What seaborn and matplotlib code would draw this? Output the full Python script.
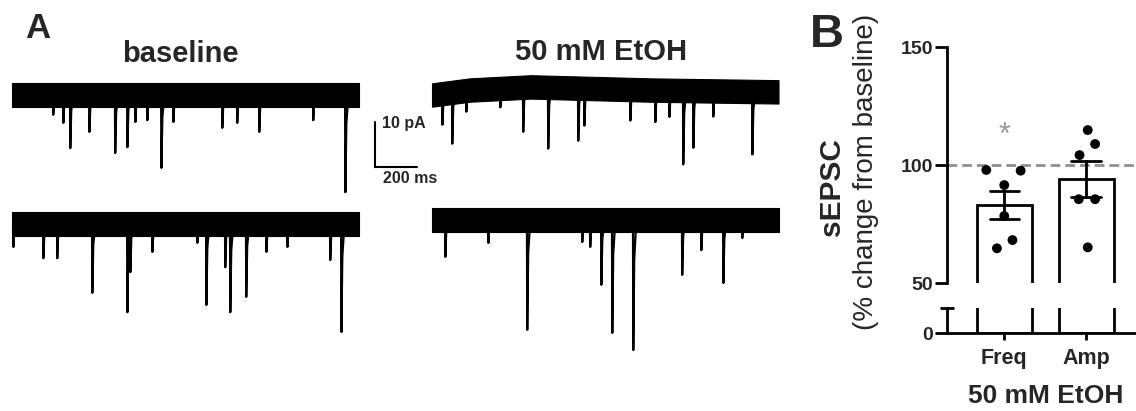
import numpy as np
import pandas as pd
import matplotlib
matplotlib.use("Agg")
import matplotlib.pyplot as plt
import seaborn as sns

# ---------------- panel A: example sEPSC traces ----------------
# events: onset time (ms) and amplitude (pA, downward)
trace_len = 1650

bl_top_t = [195, 243, 276, 367, 490, 548, 586, 643, 710, 767, 1000, 1071, 1176, 1433, 1586]
bl_top_a = [4.4, 6.2, 11.8, 8.2, 12.9, 11.6, 6.0, 5.6, 16.2, 6.0, 7.3, 6.2, 8.2, 5.6, 21.6]

bl_bot_t = [5, 148, 214, 381, 548, 562, 667, 881, 924, 1014, 1038, 1114, 1210, 1310, 1514, 1567]
bl_bot_a = [5.1, 7.6, 7.6, 15.3, 19.6, 10.7, 6.2, 4.2, 18.0, 9.6, 19.6, 16.2, 6.2, 5.1, 8.0, 24.0]

et_top_t = [48, 95, 162, 324, 433, 552, 695, 724, 943, 1062, 1129, 1195, 1243, 1338, 1524]
et_top_a = [6.9, 11.4, 4.7, 4.2, 9.9, 13.6, 11.7, 8.3, 6.9, 7.1, 5.9, 16.4, 12.7, 5.7, 14.0]

et_bot_t = [62, 267, 452, 714, 752, 805, 857, 957, 1190, 1281, 1386, 1476]
et_bot_a = [8.2, 5.1, 24.4, 4.9, 6.0, 14.4, 25.1, 28.9, 12.2, 6.7, 14.0, 4.0]

# slow baseline drift of the EtOH top trace (ms, pA)
et_top_drift_t = [0, 180, 470, 1040, 1650]
et_top_drift_v = [0, 1.1, 1.8, 1.1, 0.7]
flat_drift_t = [0, 1650]
flat_drift_v = [0, 0]

# ---------------- panel B: sEPSC % change ----------------
measures = ["Freq", "Amp"]
freq_vals = [97.9, 97.6, 91.5, 78.4, 64.7, 68.2]
amp_vals = [114.8, 108.9, 104.2, 85.5, 85.5, 65.1]
freq_jit = [-0.22, 0.20, 0.0, 0.0, -0.09, 0.10]
amp_jit = [0.02, 0.11, -0.08, -0.09, 0.11, 0.02]

sns.set_theme(style="white")
plt.rcParams["font.family"] = ["Liberation Sans", "DejaVu Sans"]

W, H = 1136, 411
fig = plt.figure(figsize=(W / 100, H / 100), dpi=100)

# panel A axes: 1 px = 4.762 ms horizontally, 1 px = 1/4.5 pA vertically
MS_PX = 200 / 42
PA_PX = 4.5
ax_a = fig.add_axes([0, 0, 800 / W, 1])
ax_a.set_xlim(-12 * MS_PX, 788 * MS_PX)
ax_a.set_ylim((95 - H) / PA_PX, 95 / PA_PX)
ax_a.axis("off")

traces = [
    (bl_top_t, bl_top_a, flat_drift_t, flat_drift_v, 0, 0),
    (bl_bot_t, bl_bot_a, flat_drift_t, flat_drift_v, 0, -(224 - 95) / PA_PX),
    (et_top_t, et_top_a, et_top_drift_t, et_top_drift_v, 2000, 0),
    (et_bot_t, et_bot_a, flat_drift_t, flat_drift_v, 2000, -(220 - 95) / PA_PX),
]
shape_dt = [0, 1.5, 6, 16]
shape_f = [0, -1.0, -0.3, 0]
hw = 2.6

rows = []
for k, (ts, amps, dt, dv, x0, y0) in enumerate(traces):
    dt = np.array(dt, float)
    dv = np.array(dv, float)
    ax_a.fill_between(x0 + dt, y0 + dv - hw, y0 + dv + hw, color="black", lw=0.8,
                      edgecolor="black")
    for j, (t, a) in enumerate(zip(ts, amps)):
        base = y0 + np.interp(t, dt, dv)
        for sdt, sf in zip(shape_dt, shape_f):
            rows.append({"t": x0 + t + sdt, "y": base + sf * a, "ev": f"{k}-{j}"})
ev_df = pd.DataFrame(rows)
sns.lineplot(data=ev_df, x="t", y="y", units="ev", estimator=None, sort=False,
             color="black", lw=1.6, ax=ax_a, legend=False)

# scale bar
sb_x = (375 - 12) * MS_PX
sb_top = (95 - 122) / PA_PX
ax_a.plot([sb_x, sb_x, sb_x + 200], [sb_top, sb_top - 10, sb_top - 10],
          color="black", lw=1.5, solid_joinstyle="miter")
ax_a.text((382 - 12) * MS_PX, (95 - 128) / PA_PX, "10 pA", fontsize=11.5,
          fontweight="bold", va="baseline", ha="left")
ax_a.text((383 - 12) * MS_PX, (95 - 183) / PA_PX, "200 ms", fontsize=11.5,
          fontweight="bold", va="baseline", ha="left")

ax_a.text((180 - 12) * MS_PX, (95 - 62) / PA_PX, "baseline", fontsize=21,
          fontweight="bold", ha="center", va="baseline")
ax_a.text((601 - 12) * MS_PX, (95 - 60) / PA_PX, "50 mM EtOH", fontsize=21,
          fontweight="bold", ha="center", va="baseline")

fig.text(25 / W, 1 - 38 / H, "A", fontsize=25, fontweight="bold", va="baseline")

# panel B: broken y axis
dfb = pd.DataFrame({"measure": ["Freq"] * len(freq_vals) + ["Amp"] * len(amp_vals),
                    "value": freq_vals + amp_vals})
xpos = [0 + j for j in freq_jit] + [1 + j for j in amp_jit]

left = 947 / W
width = 1 - left
ax_hi = fig.add_axes([left, 1 - 283 / H, width, 236 / H])
ax_lo = fig.add_axes([left, 1 - 333 / H, width, 25 / H])

for ax, eb in [(ax_hi, "se"), (ax_lo, None)]:
    sns.barplot(data=dfb, x="measure", y="value", order=measures, errorbar=eb,
                capsize=0.36, width=0.67, color="white", saturation=1,
                edgecolor="black", linewidth=2,
                err_kws={"color": "black", "linewidth": 2}, ax=ax)
    ax.set_xlim(-0.7, 1.61)
    ax.set_xlabel("")
    ax.set_ylabel("")
    for s in ["top", "right"]:
        ax.spines[s].set_visible(False)
    ax.spines["left"].set_linewidth(2)
    ax.spines["bottom"].set_linewidth(2)
    ax.spines["left"].set_color("black")
    ax.spines["bottom"].set_color("black")

ax_hi.axhline(100, color="#8f8f8f", lw=2, dashes=(3.5, 1.8), zorder=1)
sns.scatterplot(x=xpos, y=freq_vals + amp_vals, color="black", s=50,
                edgecolor="none", ax=ax_hi, zorder=5, legend=False)
ax_hi.text(0, 112.5, "*", color="#9a9a9a", fontsize=22, ha="center", va="center")

ax_hi.set_ylim(50, 150)
ax_hi.set_yticks([50, 100, 150])
ax_hi.set_yticks([50], minor=True)
ax_hi.spines["bottom"].set_visible(False)
ax_hi.tick_params(axis="x", bottom=False, labelbottom=False)
ax_hi.tick_params(axis="y", which="major", left=True, direction="out", length=9,
                  width=2, labelsize=14, pad=1, color="black")
ax_hi.tick_params(axis="y", which="minor", left=True, direction="in", length=5,
                  width=2, color="black")

ax_lo.set_ylim(0, 10)
ax_lo.set_yticks([0])
ax_lo.set_yticks([10], minor=True)
ax_lo.tick_params(axis="y", which="major", left=True, direction="out", length=9,
                  width=2, labelsize=14, pad=1, color="black")
ax_lo.tick_params(axis="y", which="minor", left=True, direction="inout", length=10,
                  width=2, color="black")
ax_lo.tick_params(axis="x", bottom=True, direction="out", length=5, width=2,
                  labelsize=15.5, pad=6, color="black")
for ax in (ax_hi, ax_lo):
    for lab in ax.get_yticklabels() + ax.get_xticklabels():
        lab.set_fontweight("bold")

fig.text(1046 / W, 1 - 403 / H, "50 mM EtOH", fontsize=19, fontweight="bold",
         ha="center", va="baseline")
fig.text(832 / W, 1 - 187 / H, "sEPSC", rotation=90, fontsize=21.5,
         fontweight="bold", ha="center", va="center")
fig.text(866 / W, 1 - 172 / H, "(% change from baseline)", rotation=90,
         fontsize=20, ha="center", va="center")
fig.text(810 / W, 1 - 47 / H, "B", fontsize=34, fontweight="bold", va="baseline")

fig.savefig("out.png", dpi=100)
